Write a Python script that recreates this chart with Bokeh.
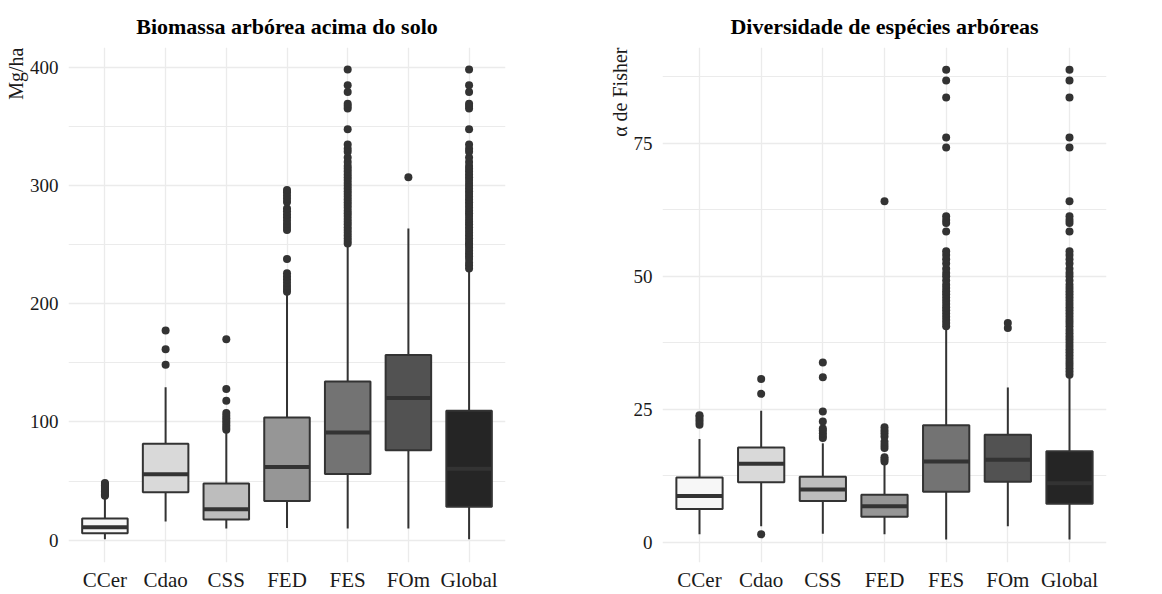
from bokeh.plotting import figure
from bokeh.models import FactorRange, Range1d, FixedTicker, Title, ColumnDataSource
from bokeh.layouts import row
from bokeh.embed import file_html
from bokeh.resources import INLINE

categories = ["CCer", "Cdao", "CSS", "FED", "FES", "FOm", "Global"]
fill_colors = ["#f7f7f7", "#d9d9d9", "#bdbdbd", "#969696", "#737373", "#525252", "#252525"]

# ---- Biomassa arbórea acima do solo (Mg/ha) ----
bio_q1 = [5.9, 40.6, 17.6, 33.2, 56.0, 76.0, 28.4]
bio_median = [11.0, 55.8, 26.2, 61.9, 91.1, 120.2, 60.5]
bio_q3 = [18.3, 81.6, 47.9, 103.8, 134.2, 156.5, 109.5]
bio_low = [0.8, 15.8, 9.9, 10.4, 9.9, 9.9, 0.8]
bio_high = [35.0, 129.4, 91.0, 208.2, 249.5, 263.6, 227.0]

bio_out_ccer = [37.6, 38.4, 39.2, 40.0, 40.9, 41.7, 42.5, 43.4, 44.2, 45.1, 46.0, 46.8, 47.6, 48.4]
bio_out_cdao = [148.3, 161.5, 177.2]
bio_out_css = [93.4, 95.2, 97.0, 99.1, 101.0, 103.2, 105.3, 107.5, 117.9, 127.8, 170.0]
bio_out_fed = [210.1, 212.4, 215.0, 217.6, 220.3, 222.9, 225.6, 237.7, 262.2, 264.8, 267.4,
               270.1, 272.8, 275.4, 278.0, 280.5, 286.0, 288.6, 291.2, 294.0, 296.0]
bio_out_fes = [250.8, 253.0, 255.3, 257.6, 260.0, 262.3, 264.6, 267.0, 269.3, 271.6, 274.0,
               276.3, 278.6, 281.0, 283.3, 285.6, 288.0, 290.3, 292.6, 295.0, 297.3, 299.6,
               302.0, 304.4, 306.8, 309.2, 311.6, 314.0, 316.4, 319.8, 323.6, 328.3, 331.0,
               334.5, 347.4, 364.9, 367.0, 369.0, 378.9, 384.6, 397.8]
bio_out_fom = [306.8]
bio_out_global = [229.8, 232.2, 234.6, 237.7, 240.0, 242.4, 244.8, 247.2, 249.5, 250.8, 253.0,
                  255.3, 257.6, 260.0, 262.3, 264.6, 267.0, 269.3, 271.6, 274.0, 276.3, 278.6,
                  281.0, 283.3, 285.6, 288.0, 290.3, 292.6, 295.0, 297.3, 299.6, 302.0, 304.4,
                  306.8, 309.2, 311.6, 314.0, 316.4, 319.8, 323.6, 328.3, 331.0, 334.5, 347.4,
                  364.9, 367.0, 369.0, 378.9, 384.6, 397.8]

bio_yticks = [0, 100, 200, 300, 400]
bio_yminor = [50, 150, 250, 350]

# ---- Diversidade de espécies arbóreas (alfa de Fisher) ----
fis_q1 = [6.25, 11.3, 7.75, 4.8, 9.5, 11.4, 7.25]
fis_median = [8.7, 14.75, 9.9, 6.75, 15.2, 15.5, 11.1]
fis_q3 = [12.2, 17.8, 12.3, 8.95, 22.0, 20.2, 17.1]
fis_low = [1.5, 3.0, 1.6, 1.5, 0.5, 3.0, 0.5]
fis_high = [19.4, 24.7, 18.6, 14.6, 40.2, 29.1, 31.0]

fis_out_ccer = [22.1, 22.6, 23.1, 23.6, 23.9]
fis_out_cdao = [1.5, 27.9, 30.7]
fis_out_css = [19.6, 20.0, 20.5, 21.0, 21.4, 22.7, 24.6, 31.0, 33.8]
fis_out_fed = [15.2, 15.6, 16.0, 17.7, 18.3, 18.9, 19.9, 20.5, 21.0, 21.6, 64.1]
fis_out_fes = [40.6, 41.2, 41.8, 42.4, 43.0, 43.6, 44.2, 44.8, 45.4, 46.0, 46.6, 47.2, 47.8,
               48.4, 49.2, 50.0, 50.6, 51.4, 52.4, 53.2, 54.0, 54.7, 58.4, 60.0, 60.6, 61.3,
               74.2, 76.1, 83.6, 86.8, 88.8]
fis_out_fom = [40.3, 41.2]
fis_out_global = [31.5, 32.1, 32.7, 33.3, 33.9, 34.5, 35.1, 35.7, 36.3, 36.9, 37.5, 38.1, 38.7,
                  39.3, 39.9, 40.6, 41.2, 41.8, 42.4, 43.0, 43.6, 44.2, 44.8, 45.4, 46.0, 46.6,
                  47.2, 47.8, 48.4, 49.2, 50.0, 50.6, 51.4, 52.4, 53.2, 54.0, 54.7, 58.4, 60.0,
                  60.6, 61.3, 64.1, 74.2, 76.1, 83.6, 86.8, 88.8]

fis_yticks = [0, 25, 50, 75]
fis_yminor = [12.5, 37.5, 62.5, 87.5]

FONT = "Liberation Serif"
LINE = "#333333"
GRID = "#EBEBEB"


def make_panel(title, ylabel, q1, med, q3, low, high, outs, yticks, yminor, yr,
               width, bl, br):
    p = figure(x_range=FactorRange(*categories, range_padding=0.1,
                                   range_padding_units="absolute"),
               y_range=Range1d(*yr), width=width, height=594,
               output_backend="svg", toolbar_location=None,
               min_border_left=bl, min_border_right=br,
               min_border_top=47, min_border_bottom=31)
    p.outline_line_color = None
    p.background_fill_color = "white"

    p.title.text = title
    p.title.align = "center"
    p.title.text_font = FONT
    p.title.text_font_size = "22px"
    p.title.text_font_style = "bold"
    p.title.text_color = "black"
    p.title.standoff = 18

    p.add_layout(Title(text=ylabel, align="right", text_font=FONT,
                       text_font_size="20px", text_font_style="normal",
                       text_color="#1a1a1a", standoff=0), "left")

    for ax in (p.xaxis[0], p.yaxis[0]):
        ax.axis_line_color = None
        ax.major_tick_line_color = None
        ax.minor_tick_line_color = None
        ax.major_tick_out = 0
        ax.major_tick_in = 0
        ax.minor_tick_out = 0
        ax.minor_tick_in = 0
        ax.axis_label_standoff = 0
        ax.major_label_text_font = FONT
        ax.major_label_text_color = "#1a1a1a"
    p.xaxis.major_label_text_font_size = "21px"
    p.xaxis.major_label_standoff = 5
    p.yaxis.major_label_text_font_size = "19px"
    p.yaxis.major_label_standoff = 10
    p.yaxis.ticker = FixedTicker(ticks=yticks, minor_ticks=yminor)

    p.xgrid.grid_line_color = GRID
    p.xgrid.grid_line_width = 1.3
    p.ygrid.grid_line_color = GRID
    p.ygrid.grid_line_width = 1.3
    p.ygrid.minor_grid_line_color = GRID
    p.ygrid.minor_grid_line_width = 1.0

    src = ColumnDataSource(dict(cat=categories, q1=q1, med=med, q3=q3,
                                low=low, high=high, fill=fill_colors))
    p.segment(x0="cat", x1="cat", y0="q3", y1="high", source=src,
              line_color=LINE, line_width=2)
    p.segment(x0="cat", x1="cat", y0="q1", y1="low", source=src,
              line_color=LINE, line_width=2)
    p.vbar(x="cat", top="q3", bottom="q1", width=0.75, source=src,
           fill_color="fill", line_color=LINE, line_width=2)
    p.rect(x="cat", y="med", width=0.75, height=4, height_units="screen",
           source=src, fill_color=LINE, line_color=None)

    ox, oy = [], []
    for c, vals in zip(categories, outs):
        ox += [c] * len(vals)
        oy += vals
    p.scatter(x=ox, y=oy, size=8, fill_color=LINE, line_color=None)
    return p


p1 = make_panel("Biomassa arbórea acima do solo", "Mg/ha",
                bio_q1, bio_median, bio_q3, bio_low, bio_high,
                [bio_out_ccer, bio_out_cdao, bio_out_css, bio_out_fed,
                 bio_out_fes, bio_out_fom, bio_out_global],
                bio_yticks, bio_yminor, (-18.8, 416.5), 581, 68, 76)

p2 = make_panel("Diversidade de espécies arbóreas", "α de Fisher",
                fis_q1, fis_median, fis_q3, fis_low, fis_high,
                [fis_out_ccer, fis_out_cdao, fis_out_css, fis_out_fed,
                 fis_out_fes, fis_out_fom, fis_out_global],
                fis_yticks, fis_yminor, (-3.8, 93.0), 581, 81, 56)

layout = row(p1, p2)
open("out.html", "w").write(file_html(layout, INLINE))
